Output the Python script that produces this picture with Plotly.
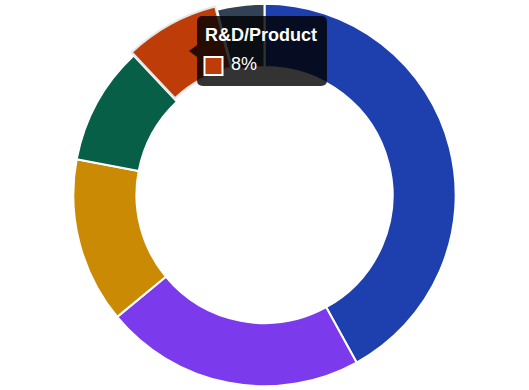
import plotly.graph_objects as go

# Data
categories = ["Engineering", "Marketing", "Sales", "Operations", "R&D/Product", "Administration"]
values = [42, 22, 14, 10, 8, 4]
colors = ["#1e40af", "#7c3aed", "#ca8a04", "#065f46", "#bd3c08", "#334155"]
tooltip_label = "R&D/Product"
tooltip_value = "8%"

W, H = 529, 390
hi = categories.index(tooltip_label)

def X(px):
    return px / W

def Y(py):
    return 1 - py / H

fig = go.Figure(go.Pie(
    labels=categories,
    values=values,
    sort=False,
    direction="clockwise",
    rotation=0,
    hole=0.67,
    marker=dict(colors=colors,
                line=dict(color=["#ffffff" if i != hi else "#e6e6e6" for i in range(len(values))],
                          width=2)),
    pull=[0.02 if i == hi else 0 for i in range(len(values))],
    textinfo="none",
    hoverinfo="skip",
    showlegend=False,
    domain=dict(x=[0, 1], y=[0, 1]),
))

# Tooltip box (rounded rect + arrow), in pixel coords converted to paper
x0, x1, y0, y1, r = 197, 327, 16, 86, 6
tipx, tipy = 189, 51
pts = [
    ("M", x0 + r, y0), ("L", x1 - r, y0), ("Q", x1, y0, x1, y0 + r),
    ("L", x1, y1 - r), ("Q", x1, y1, x1 - r, y1), ("L", x0 + r, y1),
    ("Q", x0, y1, x0, y1 - r), ("L", x0, tipy + 6), ("L", tipx, tipy),
    ("L", x0, tipy - 6), ("L", x0, y0 + r), ("Q", x0, y0, x0 + r, y0),
]
path = ""
for p in pts:
    cmd = p[0]
    coords = p[1:]
    s = []
    for i in range(0, len(coords), 2):
        s.append(f"{X(coords[i]):.5f},{Y(coords[i+1]):.5f}")
    path += cmd + " " + " ".join(s) + " "
path += "Z"

shapes = [
    dict(type="path", path=path, xref="paper", yref="paper",
         fillcolor="rgba(0,0,0,0.8)", line=dict(width=0), layer="above"),
    dict(type="rect", xref="paper", yref="paper",
         x0=X(204.5), x1=X(222.5), y0=Y(57), y1=Y(75),
         fillcolor=colors[hi], line=dict(color="#ffffff", width=2), layer="above"),
]

annotations = [
    dict(text=f"<b>{tooltip_label}</b>", x=X(203), y=Y(34.5), xref="paper", yref="paper",
         xanchor="left", yanchor="middle", showarrow=False,
         font=dict(family="Liberation Sans, Arial, sans-serif", size=18, color="#ffffff")),
    dict(text=tooltip_value, x=X(229), y=Y(64.5), xref="paper", yref="paper",
         xanchor="left", yanchor="middle", showarrow=False,
         font=dict(family="Liberation Sans, Arial, sans-serif", size=18, color="#ffffff")),
]

fig.update_layout(
    width=W, height=H,
    margin=dict(l=0, r=0, t=0, b=0),
    paper_bgcolor="#ffffff",
    plot_bgcolor="#ffffff",
    shapes=shapes,
    annotations=annotations,
)

fig.write_html("out.html")
